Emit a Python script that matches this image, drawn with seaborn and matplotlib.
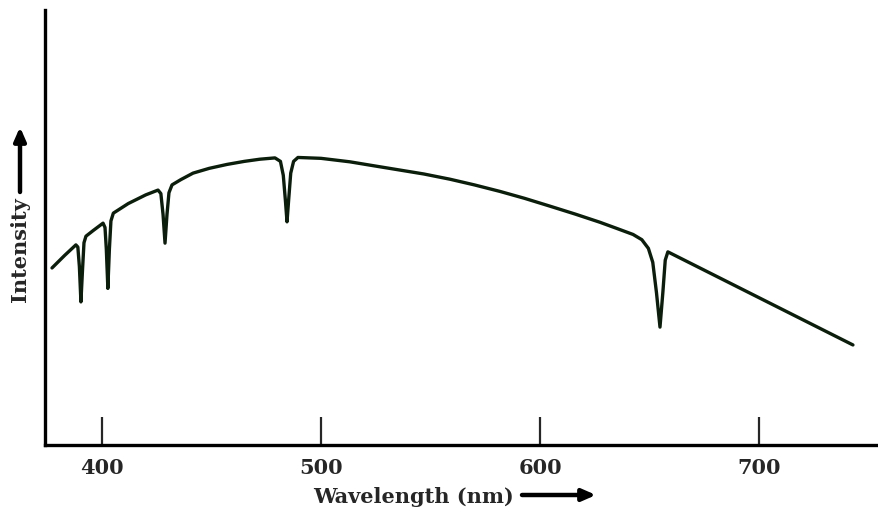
import numpy as np
import pandas as pd
import seaborn as sns
import matplotlib.pyplot as plt

# spectrum (wavelength in nm, intensity in arbitrary units 0..1)
wavelength = [377.2, 383.0, 388.1, 389.0, 389.7, 390.4, 391.1, 391.8, 392.7,
              396.0, 400.5, 401.4, 402.0, 402.7, 403.4, 404.1, 405.2,
              412.0, 420.0, 425.6, 426.9, 427.9, 428.8, 429.7, 430.6, 432.0,
              436.0, 441.6, 449.0, 457.1, 465.0, 472.1, 479.0, 481.5, 482.8, 483.8,
              484.5, 485.2, 486.2, 487.5, 489.5, 500.0, 513.2, 524.0, 536.1,
              547.0, 558.9, 570.0, 581.7, 593.0, 604.6, 616.0, 627.4, 635.0,
              642.5, 646.5, 649.5, 651.5, 653.2, 654.8, 656.1, 657.2, 658.4, 742.9]
intensity = [0.407, 0.436, 0.460, 0.455, 0.410, 0.329, 0.400, 0.465, 0.480,
             0.493, 0.510, 0.500, 0.450, 0.360, 0.450, 0.515, 0.533,
             0.555, 0.575, 0.586, 0.578, 0.530, 0.464, 0.530, 0.580, 0.598,
             0.610, 0.625, 0.636, 0.645, 0.652, 0.657, 0.660, 0.652, 0.620, 0.560,
             0.513, 0.560, 0.625, 0.652, 0.661, 0.659, 0.651, 0.642, 0.632,
             0.623, 0.611, 0.598, 0.583, 0.567, 0.549, 0.531, 0.512, 0.498,
             0.484, 0.472, 0.452, 0.420, 0.350, 0.271, 0.350, 0.425, 0.444, 0.230]
tick_values = [400, 500, 600, 700]

df = pd.DataFrame({'wavelength': wavelength, 'intensity': intensity})

sns.set_style('ticks')
plt.rcParams['font.family'] = ['DejaVu Serif', 'DejaVu Sans']

fig = plt.figure(figsize=(8.79, 5.15), dpi=100)
ax = fig.add_axes([45/879, 1-445/515, 1-45/879, 435/515])

sns.lineplot(data=df, x='wavelength', y='intensity', ax=ax, color='#0b1d0b', lw=2.4)

ax.set_xlim(374.0, 754.8)
ax.set_ylim(0, 1)
ax.set_xticks(tick_values)
ax.set_xticklabels([str(t) for t in tick_values], fontsize=15, fontweight='bold')
ax.set_yticks([])
ax.tick_params(axis='x', direction='in', length=20, width=1.6, pad=9)
ax.set_xlabel('')
ax.set_ylabel('')
for s in ['top', 'right']:
    ax.spines[s].set_visible(False)
for s in ['left', 'bottom']:
    ax.spines[s].set_linewidth(2.4)
    ax.spines[s].set_color('black')

# axis titles with long arrows, as in the picture
fig.text(414/879, 1-497/515, 'Wavelength (nm)', ha='center', va='center',
         fontsize=15, fontweight='bold')
fig.text(20/879, 1-250/515, 'Intensity', ha='center', va='center',
         rotation=90, fontsize=15, fontweight='bold')
arrow = dict(arrowstyle='-|>,head_length=0.8,head_width=0.35', lw=3.2, color='black',
             shrinkA=0, shrinkB=0)
fig.add_artist(plt.Annotation('', xy=(596/879, 1-495/515), xytext=(522/879, 1-495/515),
                              xycoords='figure fraction', arrowprops=arrow))
fig.add_artist(plt.Annotation('', xy=(20/879, 1-127/515), xytext=(20/879, 1-192/515),
                              xycoords='figure fraction', arrowprops=arrow))

fig.savefig('out.png', dpi=100)
